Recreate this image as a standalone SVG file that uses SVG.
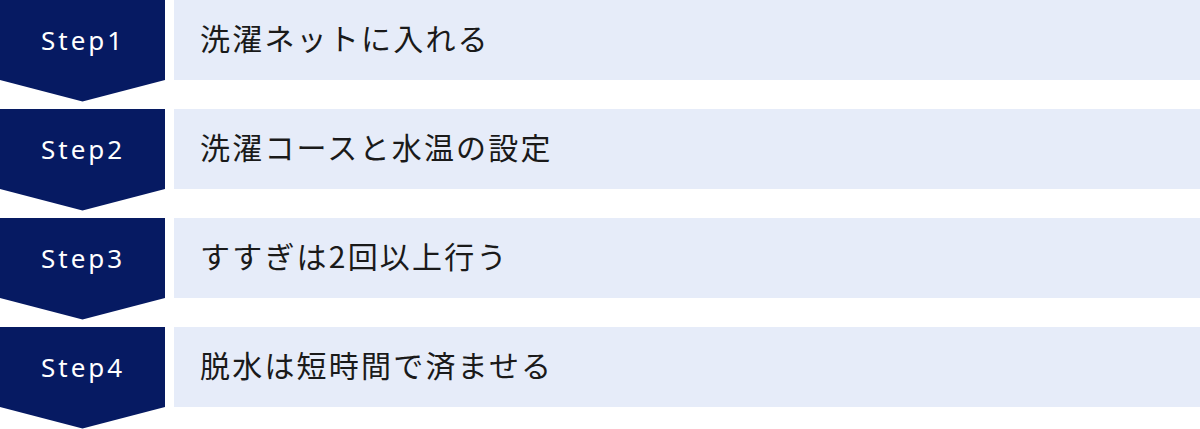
<svg xmlns="http://www.w3.org/2000/svg" width="1200" height="429" viewBox="0 0 1200 429">
<style>
.badge{fill:#061A62}
.bar{fill:#E6ECF9}
.step{font-family:"Noto Sans","Noto Sans CJK JP",sans-serif;font-size:26px;letter-spacing:3px;fill:#FFFFFF}
.label{font-family:"Noto Sans CJK JP",sans-serif;font-size:30px;letter-spacing:2.2px;fill:#1A1A1A}
</style>
<rect width="1200" height="429" fill="#FFFFFF"/>
<g id="connectors"></g>
<g id="step1">
<polygon class="badge" points="0,0 165,0 165,80 82.5,101.5 0,80"/>
<rect class="bar" x="174" y="0" width="1026" height="80"/>
<text class="step" x="41" y="50">Step1</text>
<text class="label" x="200" y="50">洗濯ネットに入れる</text>
</g>
<g id="step2">
<polygon class="badge" points="0,109 165,109 165,189 82.5,210.5 0,189"/>
<rect class="bar" x="174" y="109" width="1026" height="80"/>
<text class="step" x="41" y="159">Step2</text>
<text class="label" x="200" y="159">洗濯コースと水温の設定</text>
</g>
<g id="step3">
<polygon class="badge" points="0,218 165,218 165,298 82.5,319.5 0,298"/>
<rect class="bar" x="174" y="218" width="1026" height="80"/>
<text class="step" x="41" y="268">Step3</text>
<text class="label" x="200" y="268">すすぎは2回以上行う</text>
</g>
<g id="step4">
<polygon class="badge" points="0,327 165,327 165,407 82.5,428.5 0,407"/>
<rect class="bar" x="174" y="327" width="1026" height="80"/>
<text class="step" x="41" y="377">Step4</text>
<text class="label" x="200" y="377">脱水は短時間で済ませる</text>
</g>
</svg>
